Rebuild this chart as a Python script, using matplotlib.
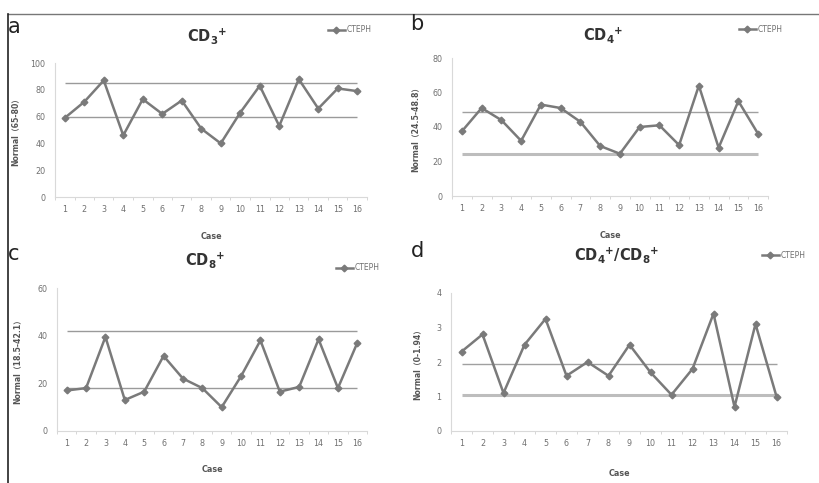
import matplotlib
matplotlib.use("Agg")
import matplotlib.pyplot as plt
from matplotlib.lines import Line2D

cases = list(range(1, 17))
cd3 = [59, 71, 87, 46, 73, 62, 72, 51, 40, 63, 83, 53, 88, 66, 81, 79]
cd4 = [37.5, 51, 44, 32, 53, 51, 43, 29, 24.5, 40, 41, 29.5, 64, 28, 55, 36]
cd8 = [17, 18, 39.5, 13, 16.5, 31.5, 22, 18, 10, 23, 38, 16.5, 18.5, 38.5, 18, 37]
ratio = [2.3, 2.8, 1.1, 2.5, 3.25, 1.6, 2.0, 1.6, 2.5, 1.7, 1.05, 1.8, 3.4, 0.7, 3.1, 1.0]

ref_cd3 = [85, 60]
ref_cd4 = [48.8, 24.5]
ref_cd8 = [42, 18]
ref_ratio = [1.94, 1.04]

titles = [r'$\mathbf{CD_{3}{}^{+}}$', r'$\mathbf{CD_{4}{}^{+}}$',
          r'$\mathbf{CD_{8}{}^{+}}$', r'$\mathbf{CD_{4}{}^{+}/CD_{8}{}^{+}}$']
ylabels = ['Normal（65-80）', 'Normal（24.5-48.8）', 'Normal（18.5-42.1）', 'Normal（0-1.94）']
letters = ['a', 'b', 'c', 'd']
yticks = [[0, 20, 40, 60, 80, 100], [0, 20, 40, 60, 80], [0, 20, 40, 60], [0, 1, 2, 3, 4]]

W, H = 819, 483
fig = plt.figure(figsize=(W / 100, H / 100), dpi=100)
fam = ['DejaVu Sans', 'Noto Sans CJK SC']

def fx(px):
    return px / W

def fy(py):
    return 1 - py / H

# axes boxes in pixels: left, right, top, bottom
boxes = [(55, 367, 63, 197), (452, 768, 58, 196), (57, 367, 288, 431), (451, 787, 293, 431)]
series = [cd3, cd4, cd8, ratio]
refs = [ref_cd3, ref_cd4, ref_cd8, ref_ratio]
ref_styles = [[(1.0, '#9a9a9a'), (1.0, '#9a9a9a')],
              [(1.0, '#a0a0a0'), (2.2, '#bdbdbd')],
              [(1.0, '#9a9a9a'), (1.0, '#9a9a9a')],
              [(1.0, '#a0a0a0'), (2.2, '#bdbdbd')]]
title_pos = [(207, 36), (603, 35), (205, 260), (617, 255)]
legend_pos = [(328, 30), (739, 29), (336, 268), (762, 255)]
letter_pos = [(8, 27), (410, 24), (8, 254), (411, 251)]
ylabel_x = [15, 415, 17, 417]
xlabel_y = [237, 235, 470, 474]

for i in range(4):
    l, r, t, b = boxes[i]
    ax = fig.add_axes([fx(l), fy(b), (r - l) / W, (b - t) / H])
    for y, (lw, c) in zip(refs[i], ref_styles[i]):
        ax.hlines(y, 1, 16, colors=c, linewidth=lw, zorder=1)
    ax.plot(cases, series[i], color='#7a7a7a', linewidth=1.8, marker='D',
            markersize=3.4, markerfacecolor='#7a7a7a', markeredgecolor='#7a7a7a',
            label='CTEPH', zorder=3)
    ax.set_xlim(0.5, 16.5)
    ax.set_ylim(yticks[i][0], yticks[i][-1])
    ax.set_yticks(yticks[i])
    ax.set_xticks(cases)
    ax.set_xticks([k + 0.5 for k in range(0, 17)], minor=True)
    ax.tick_params(axis='x', which='major', length=0, labelsize=5.8, labelcolor='#707070', pad=6)
    ax.tick_params(axis='x', which='minor', length=2, color='#d0d0d0')
    ax.tick_params(axis='y', length=0, labelsize=5.8, labelcolor='#707070', pad=7)
    for s in ['top', 'right']:
        ax.spines[s].set_visible(False)
    for s in ['left', 'bottom']:
        ax.spines[s].set_color('#d9d9d9')
        ax.spines[s].set_linewidth(0.8)
    ax.patch.set_alpha(0)

    fig.text(fx(title_pos[i][0]), fy(title_pos[i][1]), titles[i], ha='center', va='center',
             fontsize=10.5, color='#333333')
    fig.text(fx(letter_pos[i][0]), fy(letter_pos[i][1]), letters[i], ha='left', va='center',
             fontsize=15, color='#222222')
    fig.text(fx(ylabel_x[i]), fy((t + b) / 2), ylabels[i], rotation=90, ha='center', va='center',
             fontsize=5.6, fontweight='bold', color='#555555', family=fam)
    fig.text(fx((l + r) / 2), fy(xlabel_y[i]), 'Case', ha='center', va='center',
             fontsize=5.8, fontweight='bold', color='#555555')
    leg = ax.legend(loc='center left', bbox_to_anchor=(fx(legend_pos[i][0]), fy(legend_pos[i][1])),
                    bbox_transform=fig.transFigure, frameon=False, fontsize=5.5,
                    handlelength=2.2, handletextpad=0.2, borderpad=0, borderaxespad=0)
    for txt in leg.get_texts():
        txt.set_color('#707070')

# outer frame lines
fig.add_artist(Line2D([fx(8), 1], [fy(14), fy(14)], transform=fig.transFigure, color='#777777', linewidth=1.0))
fig.add_artist(Line2D([fx(8), fx(8)], [fy(14), 0], transform=fig.transFigure, color='#222222', linewidth=1.2))

fig.savefig('out.png', dpi=100)
